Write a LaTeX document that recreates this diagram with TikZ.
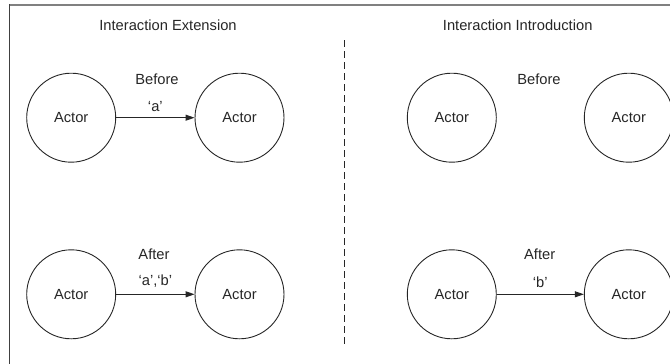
\documentclass[tikz,border=0pt]{standalone}
\usepackage{fontspec}
\setmainfont{Liberation Sans}
\usetikzlibrary{arrows.meta}
\begin{document}
\begin{tikzpicture}[x=1pt,y=-1pt,
  actor/.style={circle,draw=black!85,line width=0.9pt,minimum size=89pt,inner sep=0pt,font=\fontsize{14.7}{17}\selectfont,text=black!85},
  lbl/.style={font=\fontsize{14.7}{17}\selectfont,text=black!85,inner sep=0pt},
  link/.style={draw=black!85,line width=0.9pt,-{Triangle[length=9pt,width=6pt]}},
  frame/.style={line width=1.6pt}]
\useasboundingbox (0,0) rectangle (670,364);
\draw[frame,draw=black!50] (9,4.8) -- (672,4.8);
\draw[frame,draw=black!75] (9.5,4) -- (9.5,366);
\draw[black!85,line width=0.9pt,dash pattern=on 7pt off 4pt] (344,40) -- (344,347);
% left panel
\node[lbl] (t1) at (168,25) {Interaction Extension};
\node[lbl] (b1) at (157,79) {Before};
\node[actor] (a1) at (71.2,117.7) {Actor};
\node[actor] (a2) at (239.5,117.7) {Actor};
\draw[link] (a1) -- node[lbl,above=6pt] {‘a’} (a2);
\node[lbl] (f1) at (154,254.7) {After};
\node[actor] (a3) at (71.2,294.3) {Actor};
\node[actor] (a4) at (239.5,294.3) {Actor};
\draw[link] (a3) -- node[lbl,above=6pt] {‘a’,‘b’} (a4);
% right panel
\node[lbl] (t2) at (517.7,25) {Interaction Introduction};
\node[lbl] (b2) at (539,79) {Before};
\node[actor] (a5) at (451.8,117.7) {Actor};
\node[actor] (a6) at (628.8,117.7) {Actor};
\node[lbl] (f2) at (539.7,254.7) {After};
\node[actor] (a7) at (451.8,294.3) {Actor};
\node[actor] (a8) at (628.8,294.3) {Actor};
\draw[link] (a7) -- node[lbl,above=6pt] {‘b’} (a8);
\end{tikzpicture}
\end{document}
